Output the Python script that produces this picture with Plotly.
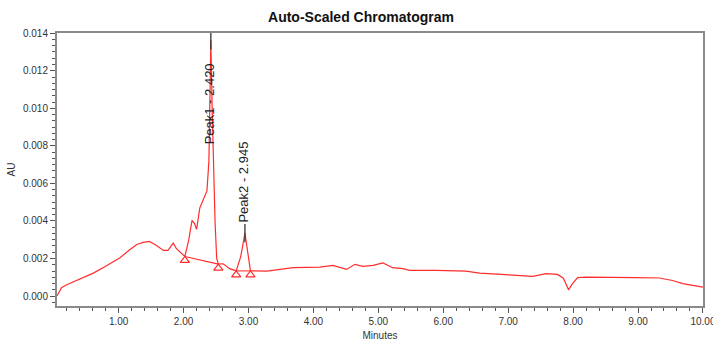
import plotly.graph_objects as go

# ---- data ----
time_min = [0.05, 0.12, 0.20, 0.40, 0.61, 0.82, 1.02, 1.17, 1.28, 1.38, 1.47, 1.56, 1.69, 1.76,
            1.84, 1.89, 1.97, 2.02, 2.08, 2.13, 2.17, 2.20, 2.25, 2.31, 2.36, 2.39, 2.405, 2.42,
            2.44, 2.46, 2.485, 2.51, 2.535, 2.61, 2.71, 2.81, 2.88, 2.945, 3.00, 3.03, 3.28, 3.69,
            4.10, 4.30, 4.51, 4.64, 4.76, 4.92, 5.07, 5.22, 5.38, 5.48, 5.89, 6.35, 6.56, 6.92,
            7.38, 7.58, 7.76, 7.85, 7.93, 7.99, 8.07, 8.20, 8.51, 8.97, 9.33, 9.53, 9.69, 10.0]
au = [0.00000, 0.00045, 0.00060, 0.00092, 0.00122, 0.00163, 0.00204, 0.00247, 0.00275, 0.00286,
      0.00291, 0.00275, 0.00243, 0.00243, 0.00282, 0.00252, 0.00225, 0.00211, 0.00300, 0.00403,
      0.00385, 0.00355, 0.00470, 0.00520, 0.00560, 0.00720, 0.01000, 0.01362, 0.01000, 0.00700,
      0.00390, 0.00200, 0.00170, 0.00172, 0.00146, 0.00134, 0.00210, 0.00335, 0.00200, 0.00134,
      0.00133, 0.00151, 0.00154, 0.00163, 0.00142, 0.00169, 0.00158, 0.00163, 0.00176, 0.00151,
      0.00146, 0.00137, 0.00137, 0.00133, 0.00122, 0.00115, 0.00105, 0.00119, 0.00115, 0.00095,
      0.00033, 0.00066, 0.00098, 0.00101, 0.00101, 0.00098, 0.00096, 0.00083, 0.00066, 0.00048]

peak_names = ["Peak1", "Peak2"]
peak_rt = [2.420, 2.945]
peak_height = [0.01362, 0.00335]
peak_start_time = [2.02, 2.81]
peak_start_au = [0.00211, 0.00134]
peak_end_time = [2.535, 3.03]
peak_end_au = [0.00170, 0.00134]

x_tick_vals = [1, 2, 3, 4, 5, 6, 7, 8, 9, 10]
y_tick_vals = [0.000, 0.002, 0.004, 0.006, 0.008, 0.010, 0.012, 0.014]

# ---- styling ----
RED = "rgb(255,45,45)"
FONT = "Liberation Sans, Arial, sans-serif"
W, H = 713, 341
ML, MR, MT, MB = 57, 10, 33, 35
X_RANGE = [0.05, 10.001]
Y_RANGE = [-0.00053, 0.01401]
plot_h = H - MT - MB
au_per_px = (Y_RANGE[1] - Y_RANGE[0]) / plot_h

fig = go.Figure()
fig.add_trace(go.Scatter(x=time_min, y=au, mode="lines",
                         line=dict(color=RED, width=1.2), hoverinfo="skip"))

# baselines under the integrated peaks
for s_t, s_a, e_t, e_a in zip(peak_start_time, peak_start_au, peak_end_time, peak_end_au):
    fig.add_trace(go.Scatter(x=[s_t, e_t], y=[s_a, e_a], mode="lines",
                             line=dict(color=RED, width=1.1), hoverinfo="skip"))

# start / end triangles (apex of triangle sits on the point)
tri_size = 8
tri_off = (tri_size / 2) * au_per_px
fig.add_trace(go.Scatter(
    x=peak_start_time + peak_end_time,
    y=[v - tri_off for v in peak_start_au + peak_end_au],
    mode="markers",
    marker=dict(symbol="triangle-up-open", size=tri_size, color=RED, line=dict(color=RED, width=1.2)),
    hoverinfo="skip", cliponaxis=False))

# apex ticks
fig.add_trace(go.Scatter(x=peak_rt, y=peak_height, mode="markers",
                         marker=dict(symbol="line-ns", size=13, line=dict(color="#333", width=1.3)),
                         hoverinfo="skip"))

# peak labels
label_len_px = 82
for name, rt, h in zip(peak_names, peak_rt, peak_height):
    txt = f"{name} - {rt:.3f}"
    top_px_from_apex = (Y_RANGE[1] - h) / au_per_px
    if top_px_from_apex < label_len_px + 12:
        fig.add_annotation(x=rt, y=Y_RANGE[1], xref="x", yref="y", text=txt, textangle=-90,
                           showarrow=False, xanchor="center", yanchor="top", yshift=-28, xshift=-1,
                           font=dict(family=FONT, size=13, color="#222"))
    else:
        fig.add_annotation(x=rt, y=h, xref="x", yref="y", text=txt, textangle=-90,
                           showarrow=False, xanchor="center", yanchor="bottom", yshift=9, xshift=-1,
                           font=dict(family=FONT, size=13, color="#222"))

axis_common = dict(showgrid=False, zeroline=False, showline=True, linecolor="#8a8a8a",
                   linewidth=2, mirror=True, ticks="outside", tickcolor="#555", tickwidth=1,
                   automargin=False, ticklabeloverflow="allow",
                   tickfont=dict(family=FONT, size=10, color="#333"))

fig.update_layout(
    width=W, height=H, autosize=False,
    margin=dict(l=ML, r=MR, t=MT, b=MB, autoexpand=False),
    paper_bgcolor="white", plot_bgcolor="white",
    showlegend=False,
    title=dict(text="<b>Auto-Scaled Chromatogram</b>", x=361 / W, xref="container",
               xanchor="center", y=1 - 17 / H, yref="container", yanchor="middle",
               automargin=False,
               font=dict(family=FONT, size=14, color="#111")),
    xaxis=dict(range=X_RANGE, tickvals=x_tick_vals, tickformat=".2f", ticklen=5,
               minor=dict(dtick=0.2, tick0=0, ticks="outside", ticklen=3, tickcolor="#555"),
               title=dict(text="Minutes", standoff=6, font=dict(family=FONT, size=10, color="#333")),
               **axis_common),
    yaxis=dict(range=Y_RANGE, tickvals=y_tick_vals, tickformat=".3f", ticklen=5,
               minor=dict(dtick=0.002 / 6, tick0=0, ticks="outside", ticklen=3, tickcolor="#555"),
               title=dict(text="AU", standoff=5, font=dict(family=FONT, size=10, color="#333")),
               **axis_common),
)

fig.write_html("out.html", config={"displayModeBar": False, "staticPlot": True},
               post_script="document.body.style.margin='0';document.body.style.overflow='hidden';")
